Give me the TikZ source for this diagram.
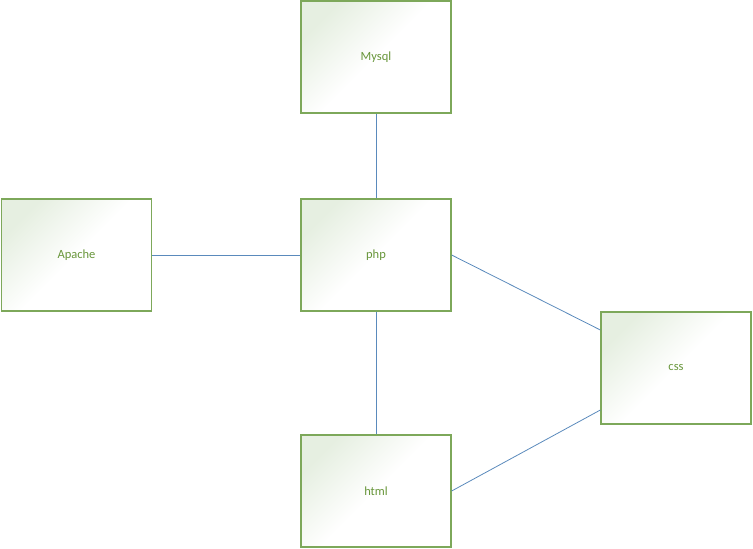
\documentclass[tikz,border=0pt]{standalone}
\usepackage{fontspec}
\setmainfont{Carlito}
\definecolor{boxborder}{RGB}{125,168,90}
\definecolor{boxtext}{RGB}{104,150,58}
\definecolor{boxfill}{RGB}{230,239,225}
\definecolor{linkblue}{RGB}{90,138,188}
\begin{document}
\begin{tikzpicture}[x=1pt,y=-1pt,
  box/.style={draw=boxborder,line width=1.3pt,top color=boxfill,bottom color=white,middle color=white,shading angle=45,
    minimum width=150pt,minimum height=112pt,inner sep=0pt,text=boxtext,
    font=\fontsize{12.5}{14}\selectfont},
  link/.style={draw=linkblue,line width=0.8pt}]
\useasboundingbox (0,0) rectangle (753,549);
\node[box] (mysql) at (376,57) {Mysql};
\node[box] (apache) at (76.5,255) {Apache};
\node[box] (php) at (376,255) {php};
\node[box] (css) at (676,368) {css};
\node[box] (html) at (376,491) {html};
\coordinate (cssA) at ([yshift=38pt]css.west);
\coordinate (cssB) at ([yshift=-42pt]css.west);
\draw[link] (mysql.south) -- (php.north);
\draw[link] (apache.east) -- (php.west);
\draw[link] (php.south) -- (html.north);
\draw[link] (php.east) -- (cssA);
\draw[link] (html.east) -- (cssB);
\end{tikzpicture}
\end{document}
